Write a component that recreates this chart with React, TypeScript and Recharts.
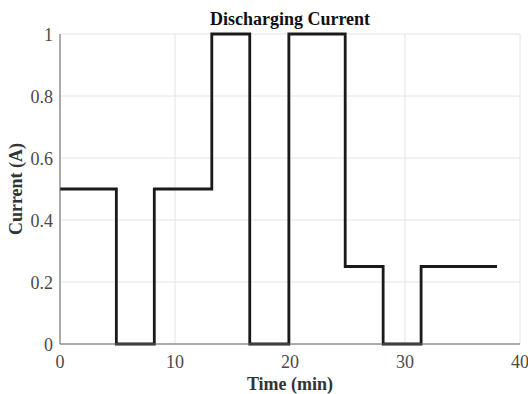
import React from 'react';
import { LineChart, Line, XAxis, YAxis, CartesianGrid } from 'recharts';

// step profile: each current holds from its time until the next time
const times = [0, 4.9, 8.2, 13.2, 16.5, 19.9, 24.8, 28.1, 31.4, 38];
const currents = [0.5, 0, 0.5, 1, 0, 1, 0.25, 0, 0.25, 0.25];
const xTicks = [0, 10, 20, 30, 40];
const yTicks = [0, 0.2, 0.4, 0.6, 0.8, 1];

const data = times.map((t, i) => ({ t, amps: currents[i] }));

const serif = 'Liberation Serif, Times New Roman, serif';

function formatY(v: number) {
  return v === 0 || v === 1 ? String(v) : v.toFixed(1);
}

const tickText = { fontFamily: serif, fontSize: 18, fill: '#4a4a4a' };

// plain svg text so the serif face sticks
function XTick({ x, y, payload }: any) {
  return (
    <text x={x} y={y + 24} textAnchor="middle" style={tickText}>
      {payload.value}
    </text>
  );
}

function YTick({ x, y, payload }: any) {
  return (
    <text x={x} y={y + 7} textAnchor="end" style={tickText}>
      {formatY(payload.value)}
    </text>
  );
}

const labelStyle = { fontFamily: serif, fontWeight: 700, fontSize: 18, fill: '#333' };

export default function App() {
  return (
    <div style={{ position: 'absolute', left: 0, top: 0, width: 528, height: 394, background: '#fff', fontFamily: serif }}>
      <div style={{
        position: 'absolute', left: 60, width: 460, top: 9, textAlign: 'center',
        fontFamily: serif, fontWeight: 700, fontSize: 18, color: '#111',
      }}>
        Discharging Current
      </div>
      <LineChart width={528} height={394} data={data} margin={{ top: 34, right: 8, left: 0, bottom: 0 }}>
        <CartesianGrid stroke="#e4e4e4" strokeWidth={1} horizontalValues={yTicks} verticalValues={xTicks} />
        <XAxis
          dataKey="t" type="number" domain={[0, 40]} ticks={xTicks} height={50}
          axisLine={{ stroke: '#666' }} tickLine={false} tickSize={0} tickMargin={0}
          tick={<XTick />} interval={0}
          label={{ value: 'Time (min)', position: 'insideBottom', offset: 4, style: labelStyle }}
        />
        <XAxis
          xAxisId="top" orientation="top" dataKey="t" type="number" domain={[0, 40]} ticks={xTicks}
          height={0} mirror tick={false} tickSize={4} axisLine={{ stroke: '#666' }} tickLine={{ stroke: '#666' }}
        />
        <YAxis
          type="number" domain={[0, 1]} ticks={yTicks} width={60}
          axisLine={{ stroke: '#666' }} tickLine={false} tickSize={0} tickMargin={7}
          tick={<YTick />} interval={0}
          label={{ value: 'Current (A)', angle: -90, position: 'insideLeft', offset: 16,
            style: { ...labelStyle, textAnchor: 'middle' } }}
        />
        <YAxis
          yAxisId="right" orientation="right" type="number" domain={[0, 1]} ticks={yTicks}
          width={0} mirror tick={false} tickSize={4} axisLine={{ stroke: '#666' }} tickLine={{ stroke: '#666' }}
        />
        <Line
          type="stepAfter" dataKey="amps" stroke="#1a1a1a" strokeWidth={2.8}
          dot={false} isAnimationActive={false}
        />
      </LineChart>
    </div>
  );
}
